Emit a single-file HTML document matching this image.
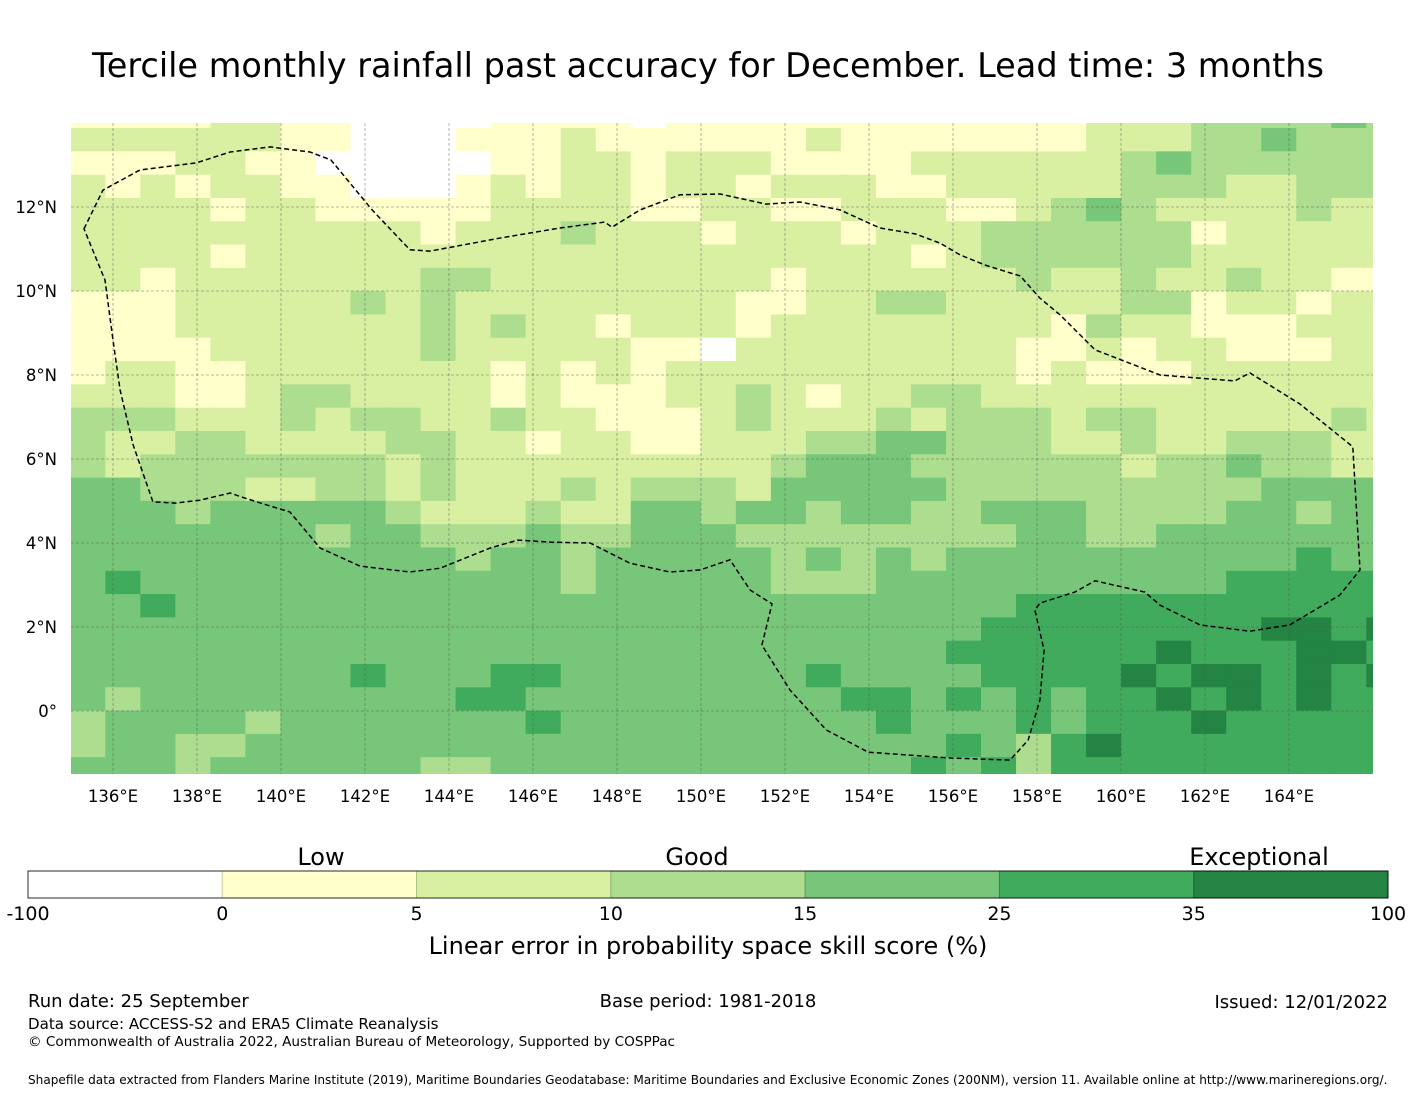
<!DOCTYPE html>
<html><head><meta charset="utf-8"><style>
body{margin:0;background:#fff;}
svg text{font-family:"DejaVu Sans","Liberation Sans",sans-serif;}
</style></head><body>
<svg id="chart" width="1416" height="1095" viewBox="0 0 1416 1095" xmlns="http://www.w3.org/2000/svg">
<rect width="1416" height="1095" fill="#fff"/>
<text x="708" y="77" font-size="33.5" text-anchor="middle" fill="#000">Tercile monthly rainfall past accuracy for December. Lead time: 3 months</text>
<defs><clipPath id="mapclip"><rect x="71" y="123" width="1302" height="651"/></clipPath></defs>
<g id="cells" clip-path="url(#mapclip)"></g>
<g id="grid" clip-path="url(#mapclip)"></g>
<path id="eez" fill="none" stroke="#000" stroke-width="1.5" stroke-dasharray="5,3"/>
<g id="xticks"></g>
<g id="yticks"></g>
<g id="colorbar"></g>
<text x="321" y="865" font-size="24" text-anchor="middle">Low</text>
<text x="697" y="865" font-size="24" text-anchor="middle">Good</text>
<text x="1259" y="865" font-size="24" text-anchor="middle">Exceptional</text>
<text x="708" y="954" font-size="24" text-anchor="middle">Linear error in probability space skill score (%)</text>
<text x="28" y="1007" font-size="18">Run date: 25 September</text>
<text x="708" y="1007" font-size="18" text-anchor="middle">Base period: 1981-2018</text>
<text x="1388" y="1008" font-size="18" text-anchor="end">Issued: 12/01/2022</text>
<text x="28" y="1029" font-size="15.1">Data source: ACCESS-S2 and ERA5 Climate Reanalysis</text>
<text x="28" y="1046" font-size="13.6">© Commonwealth of Australia 2022, Australian Bureau of Meteorology, Supported by COSPPac</text>
<text x="28" y="1084" font-size="12.1">Shapefile data extracted from Flanders Marine Institute (2019), Maritime Boundaries Geodatabase: Maritime Boundaries and Exclusive Economic Zones (200NM), version 11. Available online at http://www.marineregions.org/.</text>
</svg>
<script>
// category codes per grid row (north to south), one digit per column (west to east)
const rowCodes = [
"1111221100001"+"111011111111"+"1111222333343",
"2222221100011"+"121111112111"+"1111222334333",
"1112211000001"+"122122211112"+"2222234333333",
"2121221100012"+"122122122211"+"2222233322333",
"2222122111112"+"222112211222"+"1123432222322",
"2222222222122"+"232221222122"+"2333333122222",
"2222122222222"+"222222222221"+"2333333222222",
"2212222222332"+"222222212222"+"2232232232211",
"1112222232322"+"222222112233"+"2222233122122",
"1112222222323"+"221222122222"+"2221322111222",
"1111222222322"+"222110222222"+"2211212211122",
"1221122222221"+"212122222222"+"2212111222222",
"2221123322221"+"211122321223"+"3222222222222",
"3332223233223"+"221112322232"+"3332332222232",
"3223322223322"+"122112223344"+"3332232233322",
"3233333332322"+"222222234443"+"3333323343322",
"4433322332322"+"232333244444"+"3333333334444",
"4443444443222"+"322443443443"+"3444333344344",
"4444444344333"+"433444333333"+"3344334444444",
"4444444444434"+"434444434343"+"4444444444544",
"4544444444444"+"434444433344"+"4444444455555",
"4454444444444"+"444444444444"+"4455555555555",
"4444444444444"+"444444444444"+"4555555556656",
"4444444444444"+"444444444444"+"5555556555665",
"4444444454445"+"544444445444"+"4555565665656",
"4344444444455"+"444444444554"+"5454556565655",
"3444434444444"+"544444444454"+"4454555655555",
"3443344444444"+"444444444444"+"5435655555555",
"4443444444334"+"444444444445"+"4535555555555"
];
const binEdges = [-100,0,5,10,15,25,35,100];
const lonTicks = [136,138,140,142,144,146,148,150,152,154,156,158,160,162,164];
const latTicks = [0,2,4,6,8,10,12];
const eezLon = [135.31,135.76,136.64,137.98,138.79,139.74,140.69,141.19,142.17,143.07,143.55,145.21,146.64,147.71,147.88,148.55,149.5,150.45,151.55,152.36,153.31,154.26,155.1,155.69,156.17,156.76,157.36,157.6,158.07,158.55,159.38,160.93,162.71,163.07,164.26,165.52,165.69,165.21,164.02,163.07,161.88,160.93,160.57,159.38,158.9,158.07,157.95,158.17,158.07,157.79,157.36,155.93,153.98,152.98,152.12,151.45,151.69,151.17,150.69,149.98,149.26,148.31,147.36,146.45,145.64,144.98,143.79,143.07,141.88,140.93,140.21,139.74,139.14,138.79,138.07,137.48,136.95,136.48,136.17,136.0,135.81,135.31];
const eezLat = [11.48,12.4,12.88,13.05,13.31,13.43,13.31,13.12,11.93,10.98,10.95,11.26,11.5,11.64,11.52,11.93,12.29,12.31,12.07,12.12,11.93,11.5,11.36,11.14,10.86,10.62,10.43,10.36,9.83,9.43,8.6,8.0,7.86,8.05,7.31,6.29,3.36,2.76,2.05,1.9,2.05,2.52,2.83,3.1,2.83,2.57,2.4,1.45,0.26,-0.69,-1.17,-1.12,-0.98,-0.45,0.5,1.57,2.55,2.88,3.6,3.36,3.31,3.52,4.0,4.02,4.07,3.88,3.4,3.31,3.45,3.88,4.74,4.88,5.07,5.19,5.02,4.95,4.98,6.33,7.64,8.83,10.26,11.48];
const colors = ["#ffffff","#ffffcc","#d9f0a3","#addd8e","#78c679","#41ab5d","#238443"];
const edgeColors = ["#cccccc","#cfcf9f","#b0c282","#8cb172","#609e61","#34894a","#1c6a35"];

const NS = "http://www.w3.org/2000/svg";
// axis functions
const lonX = lon => 113 + (lon - 136) * 42;
const latY = lat => 711 - lat * 42;
const cellW = 0.834, cellH = 0.5548;
const lon0 = 135.817 - cellW, lat0 = 13.88 + cellH;
function mk(tag, attrs){const e=document.createElementNS(NS,tag);for(const k in attrs)e.setAttribute(k,attrs[k]);return e;}

const cells = document.getElementById('cells');
rowCodes.forEach((row, r) => {
  for (let c = 0; c < row.length; c++) {
    const k = +row[c];
    const x1 = lonX(lon0 + c*cellW), x2 = lonX(lon0 + (c+1)*cellW);
    const y1 = latY(lat0 - r*cellH), y2 = latY(lat0 - (r+1)*cellH);
    const rect = mk('rect', {x:x1, y:y1, width:x2-x1+0.4, height:y2-y1+0.4, fill:colors[k]});
    
    
    cells.appendChild(rect);
  }
});

const grid = document.getElementById('grid');
lonTicks.forEach(lon => {
  const l = mk('line', {x1:lonX(lon), x2:lonX(lon), y1:123, y2:774, stroke:'#555', 'stroke-width':0.8, 'stroke-dasharray':'3,2', opacity:0.55});
  
  
  grid.appendChild(l);
});
latTicks.forEach(lat => {
  const l = mk('line', {x1:71, x2:1373, y1:latY(lat), y2:latY(lat), stroke:'#555', 'stroke-width':0.8, 'stroke-dasharray':'3,2', opacity:0.55});
  
  
  grid.appendChild(l);
});

const eez = document.getElementById('eez');
eez.setAttribute('d', eezLon.map((lon,i)=>(i?'L':'M')+lonX(lon).toFixed(1)+','+latY(eezLat[i]).toFixed(1)).join(' ')+'Z');

const xt = document.getElementById('xticks');
lonTicks.forEach(lon => {
  const t = mk('text', {x:lonX(lon), y:802, 'font-size':16.5, 'text-anchor':'middle'});
  t.textContent = lon + '°E';
  
  
  xt.appendChild(t);
});
const yt = document.getElementById('yticks');
latTicks.forEach(lat => {
  const t = mk('text', {x:57, y:latY(lat)+6, 'font-size':16.5, 'text-anchor':'end'});
  t.textContent = lat === 0 ? '0°' : lat + '°N';
  
  
  yt.appendChild(t);
});

const cb = document.getElementById('colorbar');
const segW = (1388 - 28) / (binEdges.length - 1);
for (let i = 0; i < binEdges.length - 1; i++) {
  const r = mk('rect', {x:28 + i*segW, y:871, width:segW, height:27, fill:colors[i], stroke:edgeColors[i], 'stroke-width':1});
  
  
  cb.appendChild(r);
}
const frame = mk('rect', {x:28, y:871, width:1360, height:27, fill:'none', stroke:'#000', 'stroke-width':0.8});


cb.appendChild(frame);
binEdges.forEach((v, i) => {
  const t = mk('text', {x:28 + i*segW, y:920, 'font-size':19, 'text-anchor':'middle'});
  t.textContent = v;
  
  
  cb.appendChild(t);
});
</script>
</body></html>
